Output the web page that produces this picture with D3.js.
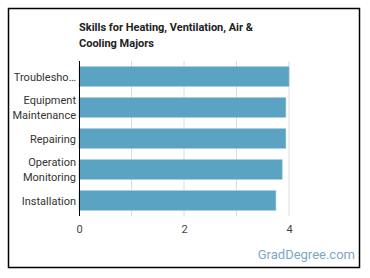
<!DOCTYPE html>
<meta charset="utf-8">
<style>
body { margin: 0; background: #fff; font-family: Roboto, "Noto Sans", sans-serif; }
.frame { fill: #fff; stroke: #000; stroke-width: 1.5; }
.grid line { stroke: #dcdcdc; }
.tick text { fill: #444; font-size: 11px; }
.ylab { fill: #333; font-size: 11px; }
.bar { fill: #5ba3c2; stroke: #8cc2da; stroke-width: 0.6; }
</style>
<body></body>
<script src="https://d3js.org/d3.v7.min.js"></script>
<script>
// skill names as shown (long ones split into lines)
var skills = [["Troublesho\u2026"], ["Equipment", "Maintenance"], ["Repairing"], ["Operation", "Monitoring"], ["Installation"]];
var scores = [4.0, 3.94, 3.94, 3.87, 3.75];
var xTicks = [0, 2, 4];
var gridTicks = [1, 2, 3, 4];

var W = 370, H = 278;
var margin = {top: 61, left: 79, right: 81, bottom: 62};

var svg = d3.select("body").append("svg")
    .attr("width", W)
    .attr("height", H);

// outer border
svg.append("rect")
    .attr("class", "frame")
    .attr("x", 8.5).attr("y", 8.5)
    .attr("width", 351).attr("height", 259);

var x = d3.scaleLinear()
    .domain([0, 4])
    .range([margin.left, W - margin.right]);

var y = d3.scaleBand()
    .domain(d3.range(skills.length))
    .range([margin.top, H - margin.bottom])
    .paddingInner(0.37)
    .paddingOuter(0.185);

// gridlines
svg.append("g")
    .attr("class", "grid")
    .selectAll("line")
    .data(gridTicks)
  .enter().append("line")
    .attr("x1", function(d) { return x(d); })
    .attr("x2", function(d) { return x(d); })
    .attr("y1", margin.top)
    .attr("y2", H - margin.bottom);

// bars
svg.selectAll(".bar")
    .data(scores)
  .enter().append("rect")
    .attr("class", "bar")
    .attr("x", x(0))
    .attr("y", function(d, i) { return y(i); })
    .attr("width", function(d) { return x(d) - x(0); })
    .attr("height", y.bandwidth());

// y axis line
svg.append("line")
    .attr("x1", x(0) + 0.5).attr("x2", x(0) + 0.5)
    .attr("y1", margin.top).attr("y2", H - margin.bottom)
    .attr("stroke", "#000");

// x tick labels
var xAxis = svg.append("g")
    .attr("transform", "translate(0," + (H - margin.bottom) + ")")
    .call(d3.axisBottom(x).tickValues(xTicks).tickSize(0).tickPadding(9).tickFormat(d3.format("d")));
xAxis.select(".domain").remove();
xAxis.selectAll("text").style("font-family", "Roboto, sans-serif");

// category labels
svg.selectAll(".ylab")
    .data(skills)
  .enter().append("text")
    .attr("class", "ylab")
    .attr("text-anchor", "end")
    .attr("x", x(0) - 3)
    .attr("y", function(d, i) { return y(i) + y.bandwidth() / 2; })
    .each(function(d) {
        var t = d3.select(this);
        var lh = 14.5;
        d.forEach(function(line, k) {
            t.append("tspan")
                .attr("x", x(0) - 3)
                .attr("dy", k === 0 ? (-(d.length - 1) * lh / 2 + 4) : lh)
                .text(line);
        });
    });

// title
svg.append("text")
    .attr("x", 79).attr("y", 31)
    .style("font-size", "11px").style("font-weight", "bold").style("fill", "#222")
    .text("Skills for Heating, Ventilation, Air &");
svg.append("text")
    .attr("x", 79).attr("y", 47)
    .style("font-size", "11px").style("font-weight", "bold").style("fill", "#222")
    .text("Cooling Majors");

// watermark
svg.append("text")
    .attr("x", 355).attr("y", 259)
    .attr("text-anchor", "end")
    .style("font-size", "13px").style("fill", "#7ba9c4")
    .text("GradDegree.com");
</script>
